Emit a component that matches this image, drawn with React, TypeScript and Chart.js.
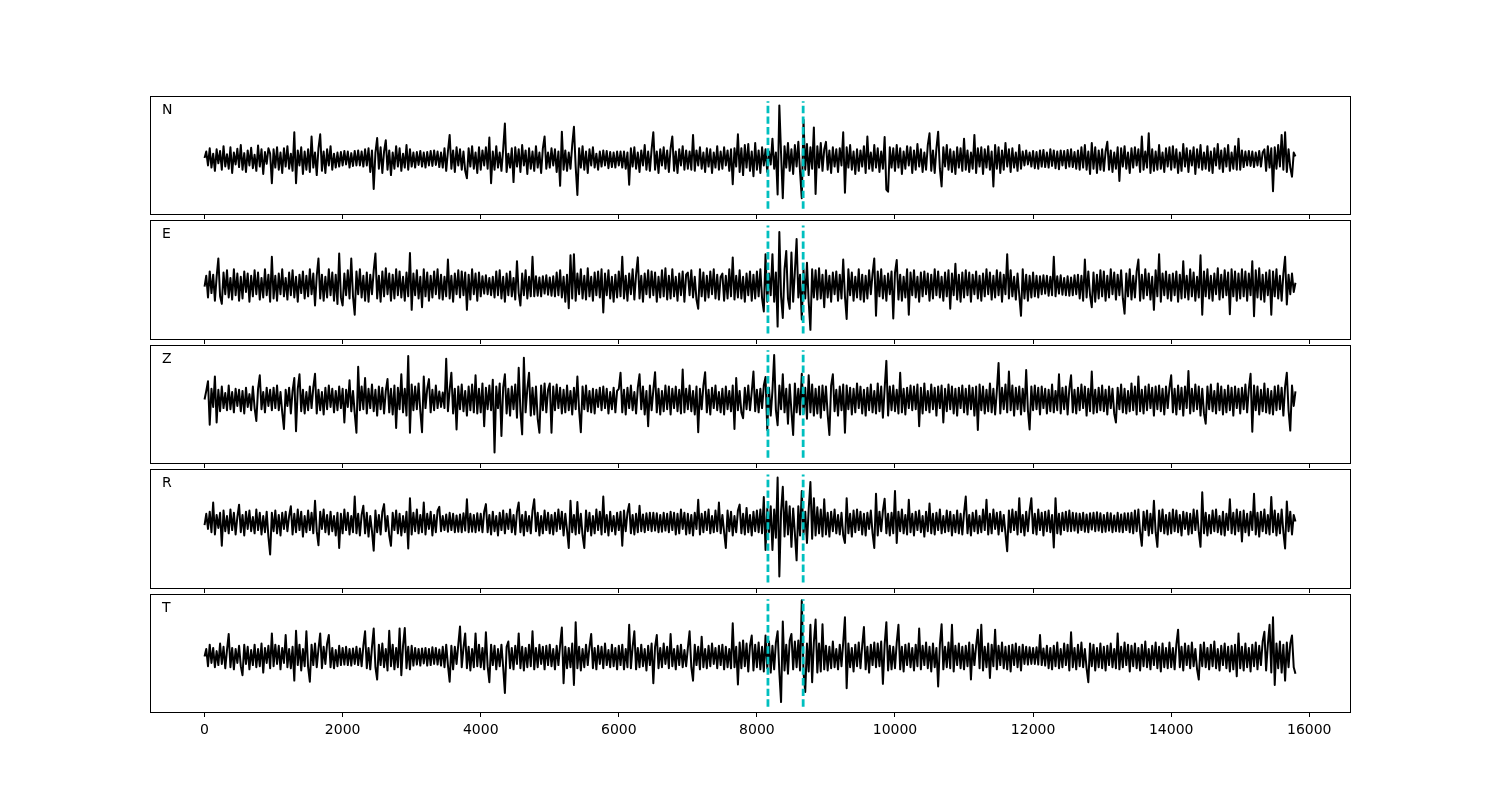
import React, { useEffect, useRef } from "react";
import { Chart, registerables } from "chart.js";

Chart.register(...registerables);

// ---- data ----
const SAMPLE_STEP = 25; // spacing of the samples along the x axis
const X_TICKS = [0, 2000, 4000, 6000, 8000, 10000, 12000, 14000, 16000];
const PICKS = [8160, 8670];
const CHANNELS = ["N", "E", "Z", "R", "T"];

const N_TRACE = [
  0.02, 0.14, -0.12, 0.20, -0.16, 0.10, -0.22, 0.18, -0.08, 0.15, -0.20, 0.24, -0.14, 0.09, -0.18, 0.22, -0.26, 0.12, -0.10, 0.19,
  -0.15, 0.26, -0.20, 0.11, -0.24, 0.16, -0.12, 0.21, -0.17, 0.08, -0.22, 0.25, -0.14, 0.18, -0.28, 0.13, -0.09, 0.20, 0.10, -0.45,
  0.18, -0.16, 0.22, -0.20, 0.12, -0.26, 0.20, -0.14, 0.24, -0.18, 0.10, -0.22, 0.50, -0.45, 0.16, -0.12, 0.22, -0.28, 0.14, -0.20,
  0.18, -0.24, 0.42, -0.16, 0.12, -0.30, 0.20, 0.46, -0.22, 0.14, -0.26, 0.18, -0.12, 0.24, -0.20, 0.10, -0.16, 0.12, -0.14, 0.13,
  -0.12, 0.15, -0.10, 0.14, -0.16, 0.11, -0.13, 0.15, -0.12, 0.16, -0.12, 0.14, -0.14, 0.18, -0.12, 0.20, -0.24, 0.16, -0.56, 0.12,
  0.39, -0.18, 0.22, -0.26, 0.14, 0.35, -0.20, 0.16, -0.30, 0.12, -0.18, 0.24, -0.14, 0.20, -0.22, 0.10, -0.16, 0.26, -0.20, 0.18,
  -0.14, 0.12, -0.16, 0.13, -0.11, 0.15, -0.14, 0.12, -0.16, 0.13, -0.12, 0.15, -0.13, 0.16, -0.11, 0.14, -0.15, 0.12, -0.16, 0.20,
  -0.22, 0.14, 0.45, -0.18, 0.16, -0.24, 0.22, -0.12, 0.18, -0.20, 0.14, -0.22, -0.36, 0.20, -0.14, 0.24, -0.18, 0.12, -0.26, 0.22,
  -0.20, 0.16, -0.12, 0.22, -0.18, 0.40, -0.45, 0.14, -0.20, 0.24, -0.16, 0.12, -0.22, 0.18, 0.66, -0.24, 0.10, -0.16, 0.20, -0.43,
  0.22, -0.14, 0.18, -0.24, 0.26, -0.12, 0.16, -0.28, 0.20, -0.18, 0.14, -0.22, 0.24, -0.16, 0.12, -0.26, 0.20, 0.42, -0.18, 0.12,
  -0.16, 0.20, -0.12, 0.18, -0.24, 0.14, -0.50, 0.51, -0.20, 0.16, -0.22, 0.12, -0.18, 0.26, 0.60, -0.14, -0.67, 0.20, -0.16, 0.24,
  -0.20, 0.14, -0.26, 0.18, -0.12, 0.22, -0.16, 0.10, -0.20, 0.14, -0.14, 0.16, -0.12, 0.15, -0.17, 0.13, -0.15, 0.12, -0.16, 0.14,
  -0.12, 0.14, -0.16, 0.14, -0.18, 0.12, -0.48, 0.20, -0.14, 0.22, -0.18, 0.12, -0.24, 0.16, -0.12, 0.26, -0.20, 0.14, -0.22, 0.18,
  0.50, -0.20, 0.14, -0.26, 0.18, -0.12, 0.22, -0.18, 0.16, -0.24, 0.20, 0.42, -0.22, 0.14, -0.26, 0.18, -0.12, 0.24, -0.20, 0.16,
  -0.18, 0.14, -0.20, 0.45, -0.22, 0.16, -0.12, 0.22, -0.18, 0.12, -0.24, 0.20, -0.14, 0.18, -0.26, 0.12, -0.16, 0.24, -0.20, 0.14,
  -0.18, 0.22, -0.12, 0.16, -0.22, 0.18, -0.47, 0.20, -0.14, 0.46, -0.24, 0.20, -0.30, 0.26, -0.16, 0.28, -0.22, 0.14, -0.32, 0.30,
  -0.20, 0.16, -0.26, 0.22, -0.12, 0.18, -0.24, 0.14, -0.10, 0.38, -0.18, 0.12, -0.66, 1.00, 0.10, -0.73, 0.24, -0.16, 0.30, -0.22,
  0.18, -0.28, 0.26, -0.14, 0.32, -0.24, -0.73, 0.73, -0.20, 0.28, -0.30, 0.22, -0.18, 0.59, -0.65, 0.24, -0.16, 0.30, -0.22, 0.18,
  0.32, -0.20, 0.16, -0.26, 0.22, -0.14, 0.18, -0.24, 0.20, -0.12, 0.50, -0.63, 0.22, -0.16, 0.26, -0.20, 0.14, -0.28, 0.18, -0.22,
  0.16, -0.14, 0.24, -0.26, 0.42, -0.18, 0.12, -0.22, 0.26, -0.16, 0.20, -0.24, 0.14, -0.18, 0.41, -0.57, -0.61, 0.22, -0.16, 0.20,
  -0.22, 0.26, -0.16, 0.20, -0.28, 0.14, -0.18, 0.24, -0.12, 0.22, -0.26, 0.16, -0.20, 0.28, -0.14, 0.18, -0.24, 0.12, -0.20, 0.26,
  0.48, -0.22, 0.16, -0.26, 0.20, 0.51, -0.18, -0.51, 0.22, -0.14, 0.26, -0.20, 0.18, -0.24, 0.14, -0.28, 0.22, -0.16, 0.20, -0.22,
  0.38, -0.20, 0.16, -0.24, 0.12, -0.18, 0.45, -0.26, 0.20, -0.14, 0.22, -0.28, 0.18, -0.16, 0.24, -0.20, 0.14, -0.51, 0.26, -0.18,
  0.22, -0.26, 0.16, -0.20, 0.30, -0.14, 0.18, -0.24, 0.20, -0.16, 0.12, -0.22, 0.26, -0.18, 0.14, -0.12, 0.16, -0.10, 0.12, -0.14,
  0.15, -0.17, 0.13, -0.18, 0.16, -0.14, 0.17, -0.15, 0.12, -0.16, 0.18, -0.13, 0.16, -0.17, 0.14, -0.19, 0.16, -0.12, 0.15, -0.17,
  0.17, -0.14, 0.18, -0.15, 0.13, -0.18, 0.16, -0.20, 0.22, -0.16, 0.26, -0.20, 0.14, -0.28, 0.30, -0.18, 0.22, -0.26, 0.16, -0.20,
  0.18, -0.22, 0.14, 0.32, -0.20, 0.16, -0.24, 0.12, -0.18, 0.22, -0.41, 0.20, -0.14, 0.24, -0.18, 0.12, -0.26, 0.20, -0.16, 0.22,
  -0.12, 0.18, -0.24, 0.42, -0.20, 0.14, -0.16, 0.48, -0.26, 0.18, -0.22, 0.14, -0.20, 0.26, -0.18, 0.12, -0.24, 0.20, -0.14, 0.22,
  -0.20, 0.24, -0.16, 0.18, -0.26, 0.12, -0.22, 0.28, -0.14, 0.20, -0.24, 0.16, -0.12, 0.22, -0.28, 0.18, -0.16, 0.26, -0.20, 0.12,
  -0.18, 0.24, -0.22, 0.14, -0.26, 0.20, -0.12, 0.28, -0.18, 0.16, -0.24, 0.20, -0.14, 0.26, -0.22, 0.12, -0.18, 0.24, -0.20, 0.38,
  -0.20, 0.16, -0.15, 0.14, -0.12, 0.15, -0.13, 0.14, -0.15, 0.12, -0.12, 0.15, -0.14, 0.12, 0.18, -0.22, 0.24, -0.16, 0.20, -0.60,
  0.22, -0.18, 0.26, -0.14, 0.45, -0.20, 0.50, -0.24, 0.18, -0.16, -0.33, 0.12, 0.05,
];

const E_TRACE = [
  -0.02, 0.18, -0.22, 0.26, -0.14, 0.20, -0.28, 0.16, 0.50, -0.20, -0.34, 0.24, -0.16, 0.28, -0.22, 0.14, -0.26, 0.30, -0.18, 0.22,
  -0.28, 0.16, -0.24, 0.26, -0.12, 0.22, -0.30, 0.18, -0.20, 0.28, -0.16, 0.24, -0.26, 0.14, -0.22, 0.30, -0.18, 0.20, -0.30, 0.53,
  -0.24, 0.18, -0.28, 0.22, -0.16, 0.30, -0.20, 0.14, -0.26, 0.24, -0.18, 0.28, -0.22, 0.16, -0.30, 0.20, -0.14, 0.26, -0.24, 0.18,
  -0.20, 0.30, -0.16, 0.22, -0.37, 0.18, 0.50, -0.24, 0.20, -0.28, 0.16, -0.22, 0.30, -0.18, 0.24, -0.28, 0.20, -0.34, 0.59, -0.22,
  -0.37, 0.22, -0.18, 0.28, -0.24, 0.50, -0.20, -0.54, 0.26, -0.16, 0.30, -0.22, 0.18, -0.28, 0.24, -0.30, 0.20, -0.16, 0.28, 0.59,
  -0.24, 0.18, -0.30, 0.26, -0.20, 0.32, -0.16, 0.22, -0.28, 0.20, -0.24, 0.30, -0.18, 0.26, -0.22, 0.16, -0.28, 0.24, -0.20, 0.60,
  -0.45, 0.22, -0.18, 0.28, -0.24, 0.16, -0.40, 0.30, -0.20, 0.24, -0.28, 0.18, -0.22, 0.26, -0.16, 0.30, -0.24, 0.20, -0.26, 0.16,
  -0.20, 0.48, -0.24, 0.18, -0.30, 0.22, -0.16, 0.28, -0.22, 0.26, -0.18, 0.24, -0.45, 0.20, -0.26, 0.30, -0.16, 0.22, -0.28, 0.24,
  -0.20, 0.17, -0.15, 0.19, -0.16, 0.14, -0.18, 0.16, -0.22, 0.26, -0.18, 0.28, -0.24, 0.16, -0.30, 0.22, -0.18, 0.26, -0.20, 0.14,
  -0.26, 0.45, -0.14, -0.37, 0.22, -0.18, 0.28, -0.24, 0.16, -0.20, 0.53, -0.20, 0.17, -0.19, 0.15, -0.20, 0.17, -0.15, 0.19, -0.17,
  0.15, -0.19, 0.17, -0.20, 0.24, -0.18, 0.28, -0.22, 0.16, -0.30, 0.20, -0.42, 0.56, -0.24, 0.58, -0.28, 0.22, -0.16, 0.30, -0.24,
  0.18, -0.26, 0.32, -0.20, 0.16, -0.28, 0.24, -0.18, 0.26, -0.22, 0.30, -0.50, 0.22, -0.18, 0.28, -0.24, 0.16, -0.30, 0.20, -0.22,
  0.26, -0.20, 0.53, -0.24, 0.18, -0.28, 0.22, -0.16, 0.30, -0.26, 0.20, 0.52, -0.24, 0.18, -0.30, 0.22, -0.16, 0.28, -0.22, 0.26,
  -0.18, 0.24, -0.30, 0.16, -0.22, 0.28, -0.20, 0.32, -0.26, 0.18, -0.24, 0.30, -0.20, 0.16, -0.28, 0.22, -0.18, 0.26, -0.30, 0.20,
  0.24, -0.18, 0.28, -0.22, 0.16, -0.26, -0.43, 0.30, -0.20, 0.24, -0.28, 0.18, -0.22, 0.26, -0.16, 0.30, -0.24, 0.20, -0.26, 0.16,
  0.22, -0.28, 0.18, -0.24, 0.30, -0.20, 0.52, -0.26, 0.18, -0.22, 0.28, -0.24, 0.16, -0.30, 0.22, -0.18, 0.26, -0.28, 0.20, -0.24,
  0.26, -0.20, 0.30, -0.24, -0.48, 0.58, -0.30, 0.22, -0.18, 0.58, -0.30, 0.24, -0.76, 0.99, -0.20, -0.60, 0.30, 0.64, -0.24, -0.43,
  0.61, -0.30, 0.26, 0.86, -0.22, 0.20, -0.63, 0.30, -0.24, 0.42, -0.30, -0.82, 0.30, -0.22, 0.28, -0.26, 0.32, -0.24, 0.20, -0.40,
  0.28, -0.22, 0.18, -0.30, 0.24, -0.16, 0.26, -0.28, 0.20, -0.24, 0.48, -0.20, -0.62, 0.30, -0.18, 0.24, -0.28, 0.16, -0.22, 0.30,
  -0.26, 0.20, -0.30, 0.18, -0.24, 0.28, -0.16, 0.22, 0.50, -0.56, 0.26, -0.20, 0.30, -0.24, 0.18, -0.28, 0.22, -0.16, 0.26, -0.61,
  0.24, 0.47, -0.26, 0.20, -0.28, 0.16, -0.22, 0.30, -0.54, 0.24, -0.18, 0.28, -0.22, 0.16, -0.30, 0.24, -0.20, 0.26, -0.16, 0.22,
  -0.28, 0.20, -0.24, 0.30, -0.18, 0.26, -0.22, 0.16, -0.28, 0.24, -0.20, 0.28, -0.43, 0.22, -0.18, 0.40, -0.26, 0.20, -0.30, 0.24,
  -0.22, 0.28, -0.18, 0.24, -0.30, 0.20, -0.16, 0.26, -0.24, 0.18, -0.28, 0.22, -0.20, 0.30, -0.16, 0.24, -0.26, 0.18, -0.22, 0.28,
  -0.18, 0.24, -0.30, 0.20, -0.16, 0.58, -0.24, 0.28, -0.20, 0.16, -0.26, 0.22, -0.18, -0.56, 0.30, -0.24, 0.20, -0.28, 0.18, -0.22,
  0.24, -0.20, 0.18, -0.22, 0.17, -0.16, 0.19, -0.15, 0.18, -0.19, 0.16, -0.18, 0.53, -0.20, 0.17, -0.15, 0.19, -0.17, 0.14, -0.18,
  0.17, -0.19, 0.15, -0.18, 0.19, -0.16, 0.20, -0.24, 0.18, -0.28, 0.48, -0.22, 0.26, -0.18, -0.40, 0.24, -0.30, 0.20, -0.24, 0.28,
  -0.20, 0.26, -0.28, 0.18, -0.22, 0.30, -0.16, 0.24, -0.26, 0.20, -0.18, 0.28, -0.24, -0.52, 0.22, -0.20, 0.30, -0.26, 0.18, -0.22,
  0.26, 0.48, -0.28, 0.20, -0.24, 0.30, -0.18, 0.22, -0.26, 0.16, -0.45, 0.28, -0.20, 0.58, -0.30, 0.22, -0.18, 0.26, -0.24, 0.20,
  -0.28, 0.22, -0.18, 0.26, -0.30, 0.20, -0.24, 0.45, -0.22, 0.18, -0.26, 0.30, -0.20, 0.24, -0.28, 0.16, -0.22, 0.56, -0.54, 0.26,
  -0.20, 0.30, -0.24, 0.18, -0.28, 0.22, -0.16, 0.32, -0.26, 0.20, -0.22, 0.28, -0.18, 0.24, -0.53, 0.30, -0.20, 0.26, -0.28, 0.22,
  -0.24, 0.30, -0.20, 0.26, -0.28, 0.22, -0.18, 0.45, -0.57, 0.28, -0.22, 0.32, -0.26, 0.20, -0.30, 0.24, -0.18, 0.28, -0.54, 0.26,
  -0.20, 0.30, -0.24, 0.18, -0.28, 0.22, 0.53, -0.35, 0.20, -0.16, 0.22, -0.12, 0.05,
];

const Z_TRACE = [
  0.00, 0.16, 0.34, -0.47, 0.20, -0.14, 0.43, -0.43, 0.18, -0.22, 0.24, -0.16, 0.12, -0.20, 0.26, -0.18, 0.14, -0.24, 0.20, -0.12,
  0.18, -0.22, 0.16, -0.26, 0.22, -0.14, 0.10, -0.20, 0.24, -0.16, -0.40, 0.20, 0.45, -0.18, 0.14, -0.24, 0.22, -0.12, 0.18, -0.20,
  0.22, -0.16, 0.26, -0.20, 0.14, -0.24, -0.55, 0.18, -0.12, 0.22, -0.26, 0.16, 0.40, -0.59, 0.20, 0.47, -0.22, 0.18, -0.26, 0.14,
  -0.20, 0.24, -0.16, 0.22, 0.48, -0.26, 0.18, -0.20, 0.14, -0.28, 0.22, -0.18, 0.26, -0.14, 0.20, -0.24, 0.16, -0.20, 0.24, -0.16,
  0.20, -0.43, 0.18, -0.14, 0.36, -0.22, 0.16, -0.26, -0.62, 0.61, -0.20, 0.24, -0.18, 0.40, -0.26, 0.20, -0.16, 0.28, -0.22, 0.18,
  -0.30, 0.24, -0.18, 0.22, -0.26, 0.16, 0.38, -0.24, 0.20, -0.28, 0.26, -0.53, 0.22, -0.18, 0.47, -0.24, 0.20, -0.30, 0.81, -0.62,
  0.28, -0.20, 0.24, -0.18, 0.30, -0.22, -0.61, 0.43, -0.16, 0.20, 0.38, -0.24, 0.18, -0.20, 0.26, -0.16, 0.15, -0.14, 0.13, -0.16,
  0.76, -0.22, 0.18, 0.50, -0.26, 0.20, -0.56, 0.24, -0.18, 0.28, -0.22, 0.16, -0.30, 0.24, -0.20, 0.28, -0.24, 0.45, -0.26, 0.20,
  -0.24, 0.30, -0.50, 0.22, -0.18, 0.26, -0.20, 0.37, -0.99, 0.24, -0.16, 0.30, -0.68, 0.22, 0.47, -0.26, 0.20, -0.30, 0.24, -0.18,
  0.28, -0.34, 0.59, -0.22, -0.65, 0.78, -0.24, 0.20, 0.50, -0.30, 0.22, -0.28, 0.24, -0.36, -0.62, 0.26, -0.20, 0.30, -0.24, 0.18,
  0.30, -0.62, 0.24, -0.20, 0.28, -0.16, 0.22, -0.26, 0.18, -0.24, 0.26, -0.20, 0.16, -0.28, 0.22, -0.18, 0.43, -0.20, -0.61, 0.24,
  -0.18, 0.26, -0.22, 0.16, -0.24, 0.20, -0.26, 0.18, -0.14, 0.22, -0.20, 0.24, -0.16, 0.20, -0.26, 0.14, -0.18, 0.22, -0.24, 0.16,
  0.20, 0.50, -0.24, 0.18, -0.28, 0.22, -0.16, 0.26, -0.20, 0.14, -0.26, 0.22, 0.47, -0.18, 0.24, -0.28, 0.16, -0.50, 0.26, -0.20,
  0.18, 0.51, -0.24, 0.20, -0.28, 0.16, -0.22, 0.26, -0.18, 0.24, -0.28, 0.20, -0.16, 0.24, -0.22, 0.18, -0.26, 0.56, -0.24, 0.20,
  -0.18, 0.26, -0.22, 0.16, -0.28, 0.24, -0.61, 0.20, -0.18, 0.26, 0.51, -0.24, 0.18, -0.28, 0.22, -0.16, 0.26, -0.20, 0.14, -0.24,
  0.20, -0.28, 0.24, -0.18, 0.16, -0.22, 0.26, -0.55, 0.40, -0.20, 0.16, -0.24, -0.35, 0.22, -0.18, 0.26, -0.20, 0.14, 0.52, -0.22,
  0.18, -0.24, 0.20, -0.16, 0.26, 0.42, -0.57, 0.22, -0.30, 0.16, 0.83, -0.20, -0.48, 0.26, -0.18, 0.47, -0.24, 0.20, -0.45, 0.28,
  -0.22, -0.66, 0.30, -0.24, 0.20, -0.28, 0.48, -0.26, 0.22, -0.36, 0.45, -0.24, 0.28, -0.30, 0.20, -0.26, 0.24, -0.34, 0.26, -0.20,
  0.24, -0.28, -0.66, 0.26, 0.47, -0.22, 0.18, -0.30, 0.24, -0.20, 0.28, -0.62, 0.26, -0.18, 0.22, -0.28, 0.20, -0.24, 0.30, -0.16,
  0.24, -0.26, 0.18, -0.30, 0.22, -0.20, 0.28, -0.24, 0.16, -0.26, 0.30, -0.22, 0.24, -0.34, 0.20, 0.72, -0.30, 0.24, -0.20, 0.26,
  -0.22, 0.18, -0.26, 0.50, -0.24, 0.20, -0.28, 0.22, -0.16, 0.26, -0.20, 0.24, -0.18, 0.28, -0.50, 0.22, -0.26, 0.30, -0.20, 0.16,
  -0.24, 0.28, -0.18, 0.22, -0.30, 0.24, -0.16, 0.26, -0.43, 0.20, -0.22, 0.28, -0.18, 0.24, -0.26, 0.20, -0.30, 0.22, -0.16, 0.26,
  -0.24, 0.20, -0.28, 0.26, -0.18, 0.22, -0.30, 0.24, -0.57, 0.28, -0.20, 0.24, -0.26, 0.18, -0.22, 0.30, -0.24, 0.20, -0.28, 0.16,
  0.68, -0.26, 0.22, -0.18, 0.28, -0.24, 0.52, -0.20, 0.26, -0.30, 0.22, -0.18, 0.24, -0.28, 0.20, -0.22, 0.55, -0.20, -0.56, 0.24,
  -0.20, 0.26, -0.18, 0.22, -0.28, 0.24, -0.16, 0.20, -0.26, 0.18, -0.22, 0.28, -0.24, 0.16, -0.20, 0.47, -0.26, 0.22, -0.18, 0.24,
  -0.28, 0.20, 0.45, -0.24, 0.18, -0.26, 0.22, -0.20, 0.28, -0.16, 0.24, -0.30, 0.20, -0.22, 0.52, -0.26, 0.18, -0.24, 0.22, -0.20,
  0.26, -0.22, 0.18, -0.28, 0.24, -0.16, 0.20, -0.26, -0.43, 0.22, -0.18, 0.28, -0.24, 0.20, -0.26, 0.16, -0.22, 0.30, -0.20, 0.24,
  -0.28, 0.43, -0.22, 0.18, -0.26, 0.24, -0.20, 0.28, -0.16, 0.22, -0.30, 0.24, -0.18, 0.26, -0.22, 0.20, -0.28, 0.24, -0.16, 0.22,
  0.45, -0.24, 0.20, -0.28, 0.26, -0.18, 0.22, -0.30, 0.24, -0.16, 0.53, -0.26, 0.20, -0.22, 0.28, -0.18, 0.24, -0.30, 0.20, -0.26,
  -0.45, 0.24, -0.18, 0.28, -0.22, 0.16, -0.26, 0.30, -0.20, 0.24, -0.28, 0.18, -0.24, 0.26, -0.20, 0.22, -0.30, 0.24, -0.16, 0.20,
  -0.26, 0.22, -0.18, 0.28, -0.24, 0.20, 0.48, -0.60, 0.26, -0.20, 0.24, -0.28, 0.18, -0.22, 0.30, -0.24, 0.20, -0.26, 0.16, -0.28,
  0.24, -0.20, 0.26, -0.18, 0.22, -0.30, 0.24, 0.50, -0.20, -0.58, 0.26, -0.12, 0.15,
];

const R_TRACE = [
  -0.05, 0.16, -0.12, 0.20, -0.18, 0.37, -0.22, 0.14, -0.10, 0.18, -0.43, 0.22, -0.16, 0.12, -0.20, 0.24, -0.14, 0.18, -0.22, 0.10,
  0.33, -0.18, 0.14, -0.24, 0.20, -0.12, 0.22, -0.16, 0.10, -0.20, 0.24, -0.14, 0.18, -0.22, 0.12, -0.18, 0.20, -0.26, -0.59, 0.18,
  -0.16, 0.22, -0.20, 0.14, -0.24, 0.18, -0.12, 0.20, -0.16, 0.12, 0.30, -0.22, 0.16, -0.18, 0.24, -0.14, 0.20, -0.26, 0.12, -0.18,
  0.22, -0.14, 0.18, -0.20, 0.40, -0.16, -0.42, 0.20, -0.12, 0.24, -0.18, 0.14, -0.22, 0.20, -0.16, 0.12, -0.24, 0.18, -0.47, 0.16,
  -0.20, 0.24, -0.14, 0.18, -0.22, 0.12, -0.18, 0.48, -0.20, 0.16, -0.24, 0.14, 0.31, -0.20, 0.18, -0.26, 0.12, -0.16, -0.52, 0.22,
  -0.18, 0.14, -0.22, 0.20, 0.34, -0.16, 0.12, -0.24, -0.43, 0.18, -0.14, 0.22, -0.20, 0.16, -0.24, 0.12, -0.18, 0.20, -0.48, 0.45,
  -0.22, 0.18, -0.16, 0.24, -0.20, 0.14, -0.18, 0.37, -0.22, 0.16, -0.12, 0.20, -0.24, 0.14, -0.18, 0.22, 0.29, -0.16, 0.12, -0.14,
  0.15, -0.17, 0.18, -0.14, 0.16, -0.18, 0.13, -0.17, 0.15, -0.18, 0.17, -0.15, 0.43, -0.18, 0.16, -0.17, 0.14, -0.18, 0.17, -0.15,
  0.16, -0.18, 0.20, 0.34, -0.18, 0.14, -0.22, 0.20, -0.16, 0.12, -0.24, 0.18, -0.14, 0.22, -0.20, 0.16, -0.12, 0.24, -0.18, 0.14,
  -0.22, 0.20, 0.37, -0.18, 0.14, -0.24, 0.20, -0.16, 0.12, -0.20, 0.22, 0.43, -0.16, 0.18, -0.24, 0.12, -0.20, 0.22, -0.14, 0.18,
  -0.20, 0.14, -0.22, 0.18, -0.16, 0.24, -0.12, 0.20, -0.24, 0.16, -0.14, -0.47, 0.40, -0.18, 0.14, -0.22, 0.38, -0.20, 0.16, -0.24,
  -0.47, 0.22, -0.16, 0.18, -0.24, 0.12, -0.20, 0.24, -0.14, 0.20, -0.22, 0.48, -0.18, 0.14, -0.24, 0.20, -0.16, 0.12, -0.22, 0.18,
  -0.14, 0.20, -0.43, 0.22, -0.16, 0.18, 0.34, -0.20, 0.14, -0.22, 0.16, -0.18, 0.31, -0.16, 0.15, -0.18, 0.17, -0.14, 0.18, -0.16,
  0.18, -0.15, 0.17, -0.18, 0.14, -0.17, 0.18, -0.15, 0.16, -0.18, 0.20, -0.14, 0.18, -0.22, 0.16, -0.20, 0.24, -0.12, 0.18, -0.22,
  0.16, -0.20, 0.14, -0.24, 0.18, -0.12, 0.42, -0.22, 0.16, -0.18, 0.20, -0.14, 0.24, -0.20, 0.12, -0.18, 0.22, -0.16, 0.37, -0.20,
  0.14, -0.18, -0.47, 0.22, -0.16, 0.20, -0.24, 0.12, -0.18, 0.22, 0.33, -0.20, 0.16, -0.22, 0.27, -0.18, 0.14, -0.24, 0.20, -0.16,
  0.22, -0.18, 0.24, -0.20, 0.47, -0.51, 0.26, -0.18, 0.30, -0.51, 0.24, -0.28, 0.83, -1.00, 0.20, 0.66, -0.26, 0.39, -0.22, 0.30,
  -0.45, 0.26, -0.20, -0.70, 0.30, -0.24, 0.58, -0.22, 0.20, -0.38, 0.24, 0.75, -0.30, 0.45, -0.24, 0.28, -0.20, 0.24, -0.26, 0.43,
  -0.22, 0.18, -0.26, 0.20, -0.16, 0.24, -0.20, 0.14, -0.22, 0.18, -0.24, -0.38, 0.45, -0.20, 0.16, -0.26, 0.22, -0.18, 0.24, -0.14,
  0.20, -0.22, 0.16, -0.24, 0.18, -0.12, 0.22, -0.20, -0.47, 0.53, -0.24, 0.20, -0.16, 0.22, 0.44, -0.20, 0.16, -0.24, 0.18, -0.20,
  0.58, -0.38, 0.20, -0.16, 0.24, -0.20, 0.14, -0.22, 0.42, -0.18, 0.16, -0.24, 0.20, -0.14, 0.22, -0.18, 0.12, -0.26, 0.20, -0.16,
  0.35, -0.20, 0.16, -0.22, 0.18, -0.14, 0.24, -0.20, 0.12, -0.18, 0.22, -0.16, 0.20, -0.24, 0.14, -0.18, 0.22, -0.20, 0.16, -0.22,
  0.18, 0.48, -0.20, 0.14, -0.24, 0.18, -0.16, 0.22, -0.20, 0.12, -0.18, 0.24, -0.14, 0.42, -0.22, 0.16, -0.20, 0.24, -0.12, 0.18,
  -0.22, 0.20, -0.16, 0.14, -0.20, -0.53, 0.22, -0.18, 0.24, -0.14, 0.20, -0.22, 0.45, -0.18, 0.14, -0.24, 0.20, -0.16, 0.22, 0.45,
  -0.20, 0.16, -0.22, 0.24, -0.14, 0.18, -0.24, 0.20, -0.16, 0.22, -0.18, 0.14, -0.46, 0.45, -0.20, 0.16, -0.22, 0.18, -0.14, 0.20,
  -0.16, 0.22, -0.16, 0.18, -0.15, 0.17, -0.19, 0.16, -0.14, 0.18, -0.17, 0.15, -0.18, 0.17, -0.13, 0.18, -0.16, 0.19, -0.15, 0.17,
  -0.18, 0.14, -0.17, 0.18, -0.15, 0.17, -0.18, 0.13, -0.16, 0.18, -0.17, 0.15, -0.18, 0.17, -0.14, 0.17, -0.18, 0.18, -0.20, 0.22,
  -0.16, 0.24, -0.18, -0.43, 0.20, -0.14, 0.22, -0.24, 0.16, -0.20, 0.40, -0.18, -0.45, 0.22, -0.16, 0.24, -0.20, 0.14, -0.22, 0.18,
  -0.20, 0.24, -0.16, 0.22, -0.18, 0.14, -0.24, 0.20, -0.12, 0.18, -0.22, 0.16, -0.20, 0.24, -0.14, 0.22, -0.18, -0.45, 0.56, -0.20,
  0.18, -0.24, 0.14, -0.20, 0.22, -0.16, 0.24, -0.18, 0.12, -0.22, 0.20, -0.24, 0.16, -0.14, 0.43, -0.20, 0.18, -0.22, 0.24, -0.16,
  0.20, -0.35, 0.22, -0.18, 0.16, -0.24, 0.20, -0.14, 0.53, -0.22, 0.18, -0.26, 0.20, -0.16, 0.24, -0.20, 0.14, -0.22, 0.47, -0.18,
  0.22, -0.24, 0.16, -0.20, 0.24, -0.18, -0.48, 0.39, -0.16, 0.20, -0.22, 0.14, 0.02,
];

const T_TRACE = [
  0.00, 0.14, -0.18, 0.22, -0.12, 0.16, -0.20, 0.10, -0.16, 0.24, -0.14, 0.18, -0.22, 0.12, 0.42, -0.20, 0.16, -0.24, 0.14, -0.12,
  0.20, -0.18, -0.35, 0.22, -0.14, 0.18, -0.24, 0.12, -0.16, 0.22, -0.20, 0.14, -0.18, 0.24, -0.30, 0.16, -0.12, 0.20, -0.22, 0.43,
  -0.18, 0.22, -0.14, 0.20, -0.24, 0.16, -0.12, 0.40, -0.20, 0.14, -0.22, 0.18, -0.45, 0.48, -0.16, 0.22, -0.26, 0.14, -0.18, 0.47,
  -0.20, -0.47, 0.22, -0.16, 0.24, -0.20, 0.14, 0.43, -0.22, 0.18, -0.14, 0.24, 0.40, -0.20, 0.16, -0.22, 0.12, -0.18, 0.20, -0.16,
  0.16, -0.15, 0.18, -0.16, 0.14, -0.17, 0.15, -0.14, 0.18, -0.16, 0.15, -0.18, 0.20, 0.47, -0.22, 0.16, -0.24, 0.18, 0.52, -0.20,
  -0.43, 0.22, -0.16, 0.24, -0.20, 0.14, -0.26, 0.48, -0.18, 0.22, -0.24, 0.16, -0.20, 0.52, -0.35, 0.20, 0.53, -0.22, 0.18, -0.24,
  0.20, -0.17, 0.16, -0.15, 0.14, -0.17, 0.15, -0.13, 0.16, -0.17, 0.14, -0.16, 0.17, -0.14, 0.16, -0.15, 0.13, -0.17, 0.18, -0.20,
  0.22, -0.16, -0.47, 0.20, -0.24, 0.18, -0.14, 0.22, 0.56, -0.20, 0.16, 0.43, -0.22, 0.18, -0.26, 0.14, -0.20, 0.43, -0.18, 0.22,
  -0.20, 0.16, -0.24, 0.45, -0.18, -0.48, 0.22, -0.16, 0.20, -0.24, 0.14, -0.18, 0.22, -0.20, -0.68, 0.18, 0.28, -0.22, 0.16, -0.24,
  0.20, -0.14, 0.43, -0.22, 0.18, -0.26, 0.16, -0.20, 0.22, -0.18, 0.47, -0.24, 0.16, -0.20, 0.22, -0.14, 0.18, -0.24, 0.20, -0.16,
  0.22, -0.18, 0.14, -0.24, 0.20, -0.16, 0.22, 0.54, -0.50, 0.18, -0.22, 0.16, -0.20, 0.24, -0.53, 0.64, -0.22, 0.18, -0.26, 0.14,
  -0.20, 0.22, -0.16, 0.18, 0.42, -0.22, 0.16, -0.24, 0.20, -0.14, 0.18, -0.22, 0.24, -0.16, 0.12, -0.20, 0.22, -0.18, 0.16, -0.24,
  0.20, -0.16, 0.22, -0.24, 0.14, -0.20, 0.59, -0.22, 0.18, 0.47, -0.24, 0.16, -0.20, 0.22, -0.18, 0.14, -0.26, 0.20, -0.16, 0.24,
  -0.50, 0.18, 0.40, -0.22, 0.16, -0.20, 0.24, -0.14, 0.18, -0.22, 0.42, -0.18, 0.14, -0.24, 0.20, -0.16, 0.22, -0.20, 0.12, -0.18,
  0.16, 0.47, -0.20, -0.45, 0.22, -0.16, 0.18, -0.24, 0.37, -0.20, 0.14, -0.22, 0.20, -0.18, 0.24, -0.14, 0.16, -0.22, 0.20, -0.16,
  0.22, -0.24, 0.18, -0.20, 0.14, -0.22, 0.62, -0.20, 0.18, -0.52, 0.26, -0.22, 0.30, -0.18, 0.24, -0.28, 0.20, 0.39, -0.26, 0.22,
  -0.20, 0.26, -0.24, 0.18, -0.28, 0.39, -0.22, 0.28, -0.30, 0.20, -0.24, 0.26, 0.47, -0.30, -0.85, 0.65, -0.26, 0.22, -0.32, 0.30,
  0.42, -0.24, 0.28, -0.20, 0.30, -0.26, 1.05, -0.30, -0.66, 0.24, -0.28, 0.59, -0.48, 0.26, 0.69, -0.30, 0.24, -0.28, 0.60, -0.24,
  0.20, -0.26, 0.18, -0.22, 0.28, -0.20, 0.14, -0.24, 0.22, -0.18, 0.26, 0.73, -0.59, 0.24, -0.20, 0.16, -0.28, 0.22, -0.18, 0.26,
  -0.22, 0.20, 0.55, -0.24, 0.18, -0.30, 0.22, -0.16, 0.26, -0.20, 0.24, -0.18, 0.28, -0.51, 0.22, 0.64, -0.26, 0.20, -0.24, 0.18,
  -0.22, 0.26, 0.59, -0.24, 0.18, -0.28, 0.22, -0.16, 0.24, -0.20, 0.16, -0.26, 0.22, -0.18, 0.52, -0.24, 0.20, -0.16, 0.26, -0.22,
  0.18, -0.28, 0.24, -0.20, 0.16, -0.56, 0.22, 0.60, -0.24, 0.18, -0.20, 0.26, -0.22, 0.59, -0.28, 0.20, -0.16, 0.24, -0.22, 0.18,
  -0.24, 0.20, -0.18, 0.26, -0.43, 0.22, -0.16, 0.20, 0.50, -0.22, 0.59, -0.26, 0.18, -0.20, 0.24, -0.40, 0.22, -0.18, 0.50, -0.24,
  0.20, -0.16, 0.26, -0.22, 0.18, -0.24, 0.20, -0.28, 0.22, -0.16, 0.24, -0.20, 0.18, -0.26, 0.22, -0.14, 0.18, -0.15, 0.17, -0.14,
  0.16, -0.14, 0.17, -0.15, 0.40, -0.16, 0.15, -0.17, 0.20, -0.22, 0.16, -0.24, 0.20, -0.18, 0.26, -0.22, 0.14, -0.20, 0.24, -0.16,
  0.22, -0.26, 0.45, -0.20, 0.16, -0.24, 0.22, -0.18, 0.26, -0.20, 0.14, -0.22, -0.48, 0.24, -0.18, 0.22, -0.26, 0.16, -0.20, 0.24,
  -0.22, 0.18, -0.26, 0.20, -0.16, 0.24, -0.20, 0.14, -0.22, 0.43, -0.24, 0.18, -0.20, 0.26, -0.16, 0.22, -0.28, 0.20, -0.18, 0.24,
  -0.22, 0.16, -0.26, 0.22, -0.18, 0.28, -0.20, 0.14, -0.24, 0.20, -0.16, 0.26, -0.22, 0.18, -0.28, 0.24, -0.20, 0.16, -0.22, 0.26,
  -0.20, 0.16, -0.24, 0.22, 0.50, -0.20, 0.18, -0.26, 0.24, -0.16, 0.20, -0.22, 0.26, -0.18, 0.14, -0.24, -0.43, 0.22, -0.18, 0.26,
  -0.20, 0.16, -0.24, 0.22, -0.18, 0.28, -0.22, 0.14, -0.26, 0.20, -0.16, 0.24, -0.22, 0.18, -0.28, 0.20, -0.24, 0.22, -0.37, 0.43,
  -0.22, 0.18, -0.26, 0.24, -0.20, 0.16, -0.28, 0.22, -0.18, 0.26, -0.24, 0.20, -0.16, 0.28, 0.46, -0.26, 0.22, 0.59, -0.30, 0.73,
  -0.53, 0.24, -0.22, 0.28, -0.30, 0.22, -0.45, 0.26, -0.20, 0.24, 0.39, -0.20, -0.32,
];

const TRACES = [N_TRACE, E_TRACE, Z_TRACE, R_TRACE, T_TRACE];

// ---- layout / styling ----
const X_MIN = -790;
const X_MAX = 16590;
const PANEL_TOP = [96, 220, 345, 469, 594];
const PANEL_H = [118, 119, 118, 119, 118];
const Y_MIN = [-1.025, -0.989, -1.184, -1.211, -1.035];
const Y_MAX = [1.175, 1.211, 1.016, 0.989, 1.165];
const PAD_TOP = 4;
const AXIS_H_SMALL = 6;
const AXIS_H_LAST = 40;
const PICK_COLOR = "#00bfbf";

const boxPlugin = {
  id: "panelBox",
  afterDraw(chart: any) {
    const { ctx, chartArea: a } = chart;
    ctx.save();
    ctx.strokeStyle = "#000";
    ctx.lineWidth = 1;
    ctx.strokeRect(a.left + 0.5, a.top + 0.5, a.right - a.left, a.bottom - a.top);
    ctx.restore();
  },
};

function Panel({ idx }: { idx: number }) {
  const ref = useRef<HTMLCanvasElement | null>(null);
  const last = idx === CHANNELS.length - 1;
  const axisH = last ? AXIS_H_LAST : AXIS_H_SMALL;
  const canvasH = PAD_TOP + PANEL_H[idx] + axisH;

  useEffect(() => {
    if (!ref.current) return;
    const trace = TRACES[idx];
    const pts = trace.map((v, i) => ({ x: i * SAMPLE_STEP, y: v }));
    const lo = Y_MIN[idx] + 0.1;
    const hi = Y_MAX[idx] - 0.1;
    const pickSets = PICKS.map((p) => ({
      data: [
        { x: p, y: lo },
        { x: p, y: hi },
      ],
      borderColor: PICK_COLOR,
      borderWidth: 2.8,
      borderDash: [7.4, 3.2],
      borderCapStyle: "butt",
      pointRadius: 0,
      fill: false,
      tension: 0,
    }));
    const chart = new Chart(ref.current, {
      type: "line",
      data: {
        datasets: [
          ...pickSets,
          {
            data: pts,
            borderColor: "#000",
            borderWidth: 2,
            borderJoinStyle: "round",
            pointRadius: 0,
            fill: false,
            tension: 0,
          },
        ] as any,
      },
      options: {
        responsive: false,
        animation: false,
        events: [],
        layout: { padding: { left: 150, right: 150, top: PAD_TOP, bottom: 0 } },
        plugins: {
          legend: { display: false },
          tooltip: { enabled: false },
        },
        scales: {
          x: {
            type: "linear",
            position: "bottom",
            min: X_MIN,
            max: X_MAX,
            afterBuildTicks: (s: any) => {
              s.ticks = X_TICKS.map((v) => ({ value: v }));
            },
            afterFit: (s: any) => {
              s.height = axisH;
            },
            grid: {
              display: true,
              drawOnChartArea: false,
              drawTicks: true,
              tickLength: 5,
              color: "#000",
              lineWidth: 1,
            },
            border: { display: false },
            ticks: {
              display: last,
              color: "#000",
              font: { family: "DejaVu Sans", size: 14 },
              padding: 5,
              maxRotation: 0,
              autoSkip: false,
              callback: (v: any) => String(v),
            },
          },
          y: {
            display: false,
            min: Y_MIN[idx],
            max: Y_MAX[idx],
          },
        },
      } as any,
      plugins: [boxPlugin],
    });
    return () => chart.destroy();
  }, [idx]);

  return (
    <>
      <canvas
        ref={ref}
        width={1500}
        height={canvasH}
        style={{ position: "absolute", left: 0, top: PANEL_TOP[idx] - PAD_TOP, width: 1500, height: canvasH }}
      />
      <div
        style={{
          position: "absolute",
          left: 162,
          top: PANEL_TOP[idx] + 6,
          font: '14px "DejaVu Sans"',
          lineHeight: "14px",
          color: "#000",
        }}
      >
        {CHANNELS[idx]}
      </div>
    </>
  );
}

export default function App() {
  return (
    <div style={{ position: "absolute", left: 0, top: 0, width: 1500, height: 800, background: "#fff" }}>
      {CHANNELS.map((c, i) => (
        <Panel key={c} idx={i} />
      ))}
    </div>
  );
}
